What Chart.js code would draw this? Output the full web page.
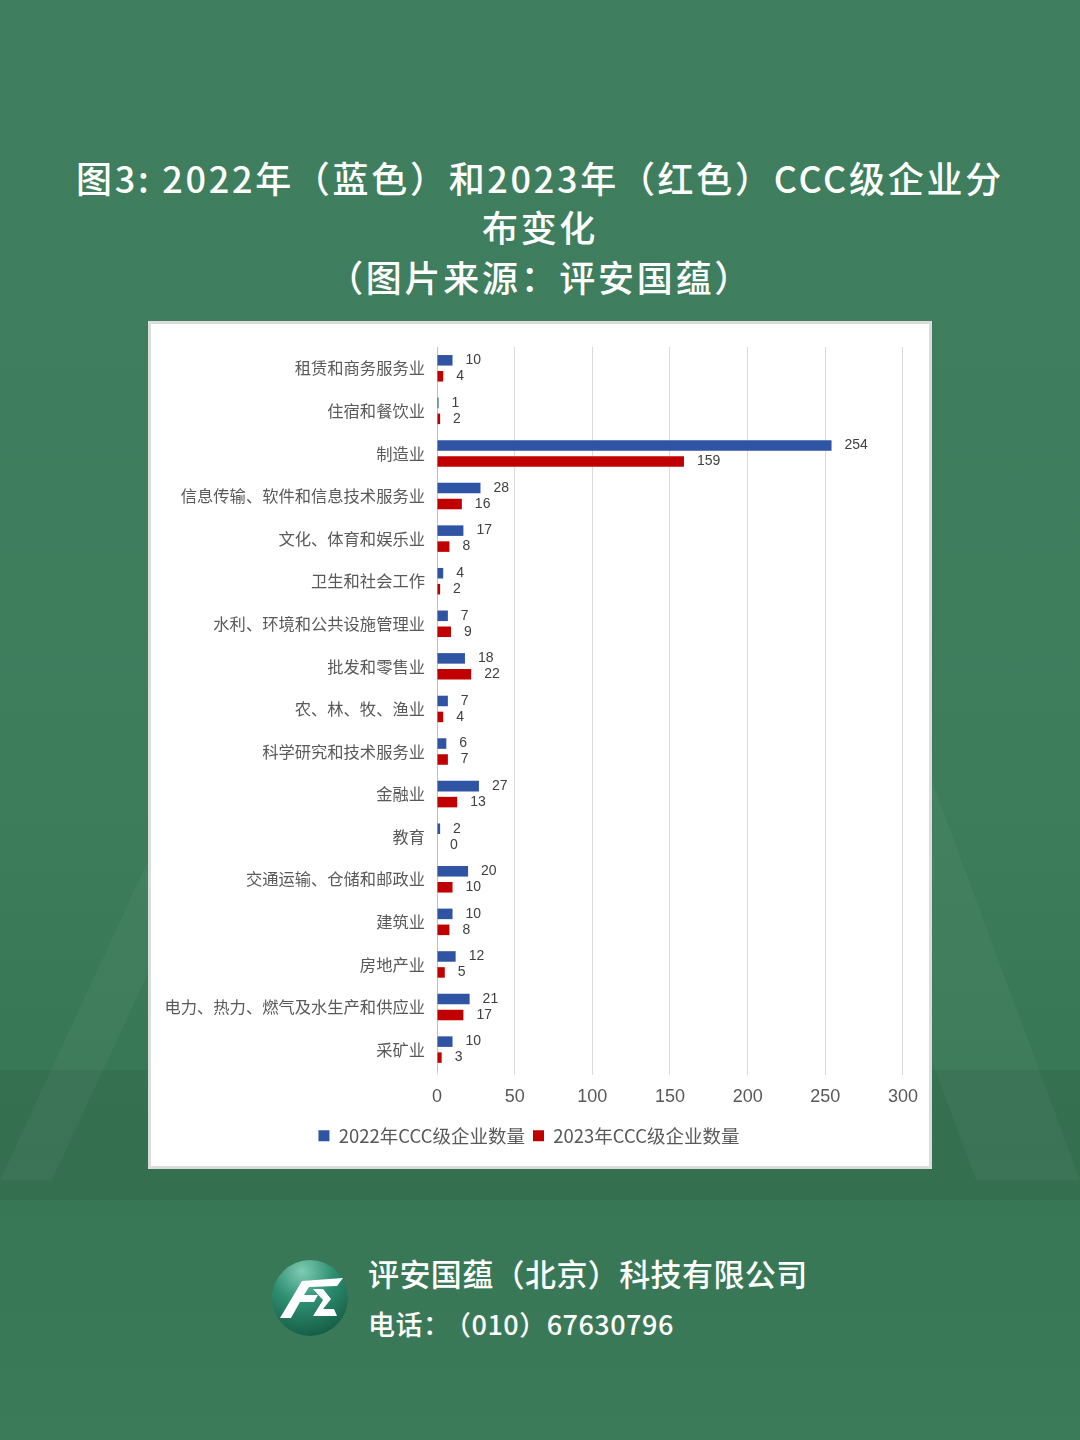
<!DOCTYPE html>
<html>
<head>
<meta charset="utf-8">
<script src="https://cdn.jsdelivr.net/npm/chart.js@4.4.1/dist/chart.umd.min.js"></script>
<style>
  html, body { margin:0; padding:0; }
  body { width:1080px; height:1440px; position:relative; overflow:hidden;
    background: linear-gradient(180deg, #3f7f5f 0%, #3d7d5c 55%, #377654 80%, #3c7b5a 100%);
    font-family: "Noto Sans CJK SC", "Noto Sans", sans-serif; }
  .deco { position:absolute; background:rgba(255,255,255,0.035); }
  .title { position:absolute; left:0; width:1080px; text-align:center; color:#fff;
    font-size:36px; font-weight:500; letter-spacing:2.7px; line-height:50px; }
  #box { position:absolute; left:148px; top:321px; width:784px; height:848px; box-sizing:border-box;
    background:#fff; border:3px solid #dcdcdc; }
  #box canvas { position:absolute; left:0; top:0; }
  .company { position:absolute; left:368px; top:1250px; color:#fff; font-size:31px; font-weight:500; letter-spacing:0.4px; }
  .phone { position:absolute; left:368px; top:1304px; color:#fff; font-size:27px; font-weight:500; letter-spacing:0.5px; white-space:pre; }
  #logo { position:absolute; left:271px; top:1259px; }
</style>
</head>
<body>
<div class="deco" style="left:0;top:620px;width:260px;height:560px;clip-path:polygon(0 100%,100% 0,100% 20%,20% 100%);"></div>
<div class="deco" style="left:820px;top:760px;width:260px;height:420px;clip-path:polygon(0 0,40% 0,100% 100%,60% 100%);"></div>
<div class="deco" style="left:0;top:1070px;width:1080px;height:130px;background:rgba(0,0,0,0.05);"></div>

<div class="title" style="top:152px;">图3: 2022年（蓝色）和2023年（红色）CCC级企业分</div>
<div class="title" style="top:201px;">布变化</div>
<div class="title" style="top:251px;">（图片来源：评安国蕴）</div>

<div id="box"><canvas id="c" width="778" height="842"></canvas></div>

<svg id="logo" width="78" height="78" viewBox="0 0 78 78">
  <defs>
    <radialGradient id="lg" cx="40%" cy="15%" r="90%">
      <stop offset="0%" stop-color="#7fcbb2"/>
      <stop offset="45%" stop-color="#2e8f71"/>
      <stop offset="100%" stop-color="#145a42"/>
    </radialGradient>
  </defs>
  <circle cx="39" cy="39" r="38" fill="url(#lg)"/>
  <polygon points="9,59 31,22 72,19 66,27 38,28 33,36 47,36 43,43 29,43 20,59" fill="#fff"/>
  <polygon points="42,30 52,30 60,40 52,50 63,50 66,57 42,57 52,41" fill="#fff"/>
</svg>
<div class="company">评安国蕴（北京）科技有限公司</div>
<div class="phone">电话：<span style="margin-left:7px">（010）67630796</span></div>

<script>
const categories = ["租赁和商务服务业","住宿和餐饮业","制造业","信息传输、软件和信息技术服务业","文化、体育和娱乐业","卫生和社会工作","水利、环境和公共设施管理业","批发和零售业","农、林、牧、渔业","科学研究和技术服务业","金融业","教育","交通运输、仓储和邮政业","建筑业","房地产业","电力、热力、燃气及水生产和供应业","采矿业"];
const values2022 = [10,1,254,28,17,4,7,18,7,6,27,2,20,10,12,21,10];
const values2023 = [4,2,159,16,8,2,9,22,4,7,13,0,10,8,5,17,3];
const seriesNames = ["2022年CCC级企业数量","2023年CCC级企业数量"];
const xTicks = [0,50,100,150,200,250,300];

const labelPlugin = {
  id:'valueLabels',
  afterDatasetsDraw(chart){
    const ctx = chart.ctx;
    ctx.save();
    ctx.font = '14px "Liberation Sans", Arial, sans-serif';
    ctx.fillStyle = '#404040';
    ctx.textAlign = 'left';
    ctx.textBaseline = 'middle';
    chart.data.datasets.forEach((ds,i)=>{
      const meta = chart.getDatasetMeta(i);
      meta.data.forEach((bar,j)=>{
        ctx.fillText(String(ds.data[j]), bar.x + 13, bar.y);
      });
    });
    ctx.restore();
  }
};

new Chart(document.getElementById('c'), {
  type:'bar',
  data:{
    labels:categories,
    datasets:[
      {label:seriesNames[0], data:values2022, backgroundColor:'#2f54a4', barPercentage:0.66, categoryPercentage:0.75},
      {label:seriesNames[1], data:values2023, backgroundColor:'#c00000', barPercentage:0.66, categoryPercentage:0.75}
    ]
  },
  options:{
    indexAxis:'y',
    responsive:false,
    animation:false,
    devicePixelRatio:1,
    layout:{padding:{left:0,top:23,right:22,bottom:11}},
    plugins:{
      legend:{position:'bottom',
        labels:{boxWidth:11,boxHeight:11,padding:8,color:'#595959',
          font:{size:18.5,family:'"Noto Sans CJK SC", sans-serif'}}},
      tooltip:{enabled:false}
    },
    scales:{
      x:{min:0,max:300,
        afterBuildTicks(s){ s.ticks = xTicks.map(v=>({value:v})); },
        grid:{color:'#d9d9d9',lineWidth:1,tickLength:4,drawTicks:true},
        border:{display:false},
        ticks:{color:'#595959',padding:11,font:{size:18,family:'"Liberation Sans", Arial, sans-serif'}}
      },
      y:{
        grid:{display:false,drawTicks:false},
        border:{display:true,color:'#bfbfbf',width:1},
        afterFit(s){ s.width = 286; },
        ticks:{color:'#595959',padding:12,autoSkip:false,font:{size:16.3,family:'"Noto Sans CJK SC", sans-serif'}}
      }
    }
  },
  plugins:[labelPlugin]
});
</script>
</body>
</html>
